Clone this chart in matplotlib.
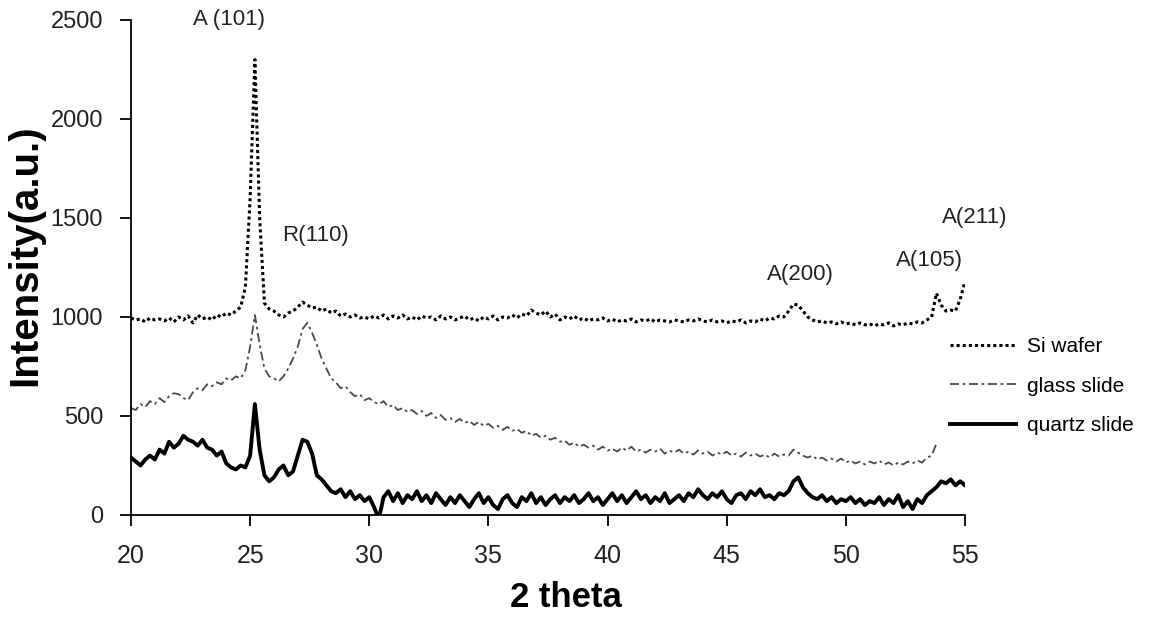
import matplotlib.pyplot as plt
import numpy as np

plt.rcParams['font.family'] = ['Liberation Sans', 'DejaVu Sans']

# 2 theta scan positions (0.2 degree step)
two_theta = np.round(np.arange(20.0, 55.01, 0.2), 1)

# Si wafer
si_wafer = [
    995, 985, 990, 975, 995, 985, 990, 980, 995, 975,
    1000, 985, 1005, 970, 1010, 990, 1000, 985, 1010, 1000,
    1020, 1010, 1030, 1050, 1150, 1600, 2300, 1500, 1070, 1040,
    1030, 1010, 1000, 1020, 1030, 1050, 1075, 1060, 1045, 1050,
    1030, 1040, 1020, 1030, 1005, 1015, 1000, 1010, 995, 1000,
    990, 1005, 995, 1010, 990, 1005, 995, 1010, 990, 1000,
    985, 1005, 995, 1000, 985, 1005, 990, 1000, 985, 995,
    1005, 985, 995, 980, 1000, 990, 1005, 985, 1000, 995,
    1010, 995, 1015, 1005, 1035, 1020, 1010, 1030, 1000, 1015,
    985, 1000, 990, 1005, 985, 995, 980, 990, 985, 995,
    980, 990, 975, 985, 980, 990, 975, 985, 980, 990,
    975, 985, 980, 975, 985, 980, 975, 985, 980, 990,
    980, 975, 985, 975, 980, 970, 980, 975, 985, 970,
    980, 975, 990, 980, 995, 990, 1005, 1000, 1030, 1065,
    1060, 1030, 1000, 985, 975, 980, 970, 975, 965, 975,
    965, 970, 960, 970, 960, 965, 955, 965, 960, 970,
    955, 965, 960, 970, 965, 975, 970, 985, 1000, 1120,
    1060, 1030, 1035, 1030, 1090, 1180,
]

# glass slide (scan stops at 53.8)
glass_slide = [
    540, 530, 560, 545, 575, 560, 590, 570, 600, 615,
    610, 590, 580, 620, 640, 630, 660, 650, 670, 660,
    690, 680, 700, 690, 730, 850, 1010, 860, 740, 700,
    690, 675, 700, 740, 790, 850, 940, 970, 920, 860,
    790, 740, 690, 670, 640, 650, 620, 600, 610, 580,
    590, 570, 560, 575, 545, 555, 530, 540, 520, 530,
    510, 525, 500, 515, 490, 505, 480, 490, 470, 485,
    465, 475, 455, 470, 450, 460, 440, 450, 430, 445,
    425, 435, 415, 425, 400, 410, 390, 400, 380, 390,
    370, 375, 355, 365, 345, 355, 340, 350, 330, 345,
    325, 335, 320, 340, 325, 345, 320, 330, 315, 330,
    320, 335, 310, 325, 315, 330, 310, 320, 305, 325,
    310, 320, 300, 315, 305, 320, 300, 310, 295, 315,
    300, 310, 295, 305, 290, 310, 295, 305, 300, 330,
    315, 300, 290, 300, 280, 290, 275, 285, 270, 285,
    265, 275, 260, 270, 255, 270, 260, 275, 255, 265,
    250, 265, 255, 270, 260, 275, 265, 290, 300, 360,
]

# quartz slide
quartz_slide = [
    290, 270, 250, 280, 300, 280, 330, 310, 370, 340,
    360, 400, 380, 370, 350, 380, 340, 330, 300, 320,
    260, 240, 230, 250, 240, 300, 560, 330, 200, 170,
    190, 230, 250, 200, 220, 300, 380, 370, 310, 200,
    180, 150, 120, 110, 130, 90, 120, 80, 100, 70,
    90, 40, -20, 90, 120, 70, 110, 60, 100, 80,
    120, 70, 100, 60, 110, 80, 50, 90, 60, 100,
    70, 40, 80, 110, 60, 90, 50, 30, 80, 100,
    60, 40, 90, 70, 110, 60, 90, 50, 80, 100,
    60, 90, 70, 100, 60, 80, 110, 70, 90, 50,
    80, 110, 70, 100, 60, 90, 120, 80, 100, 60,
    90, 70, 110, 60, 80, 100, 70, 110, 90, 130,
    100, 80, 110, 90, 120, 80, 60, 100, 110, 80,
    120, 100, 130, 90, 100, 80, 110, 100, 120, 170,
    190, 140, 110, 90, 80, 100, 70, 90, 60, 80,
    70, 90, 60, 80, 50, 70, 60, 90, 50, 80,
    60, 100, 40, 70, 30, 80, 60, 100, 120, 140,
    170, 160, 180, 150, 170, 150,
]

# peak labels: text, 2 theta, intensity
peak_names = ['A (101)', 'R(110)', 'A(200)', 'A(105)', 'A(211)']
peak_x = [24.1, 27.75, 48.1, 53.5, 55.4]
peak_y = [2500, 1410, 1215, 1285, 1500]

fig = plt.figure(figsize=(11.51, 6.18), dpi=100)
ax = fig.add_axes([0.1138, 0.1667, 0.7246, 0.801])

ax.plot(two_theta, si_wafer, color='black', lw=2.2, linestyle=(0, (1, 1)),
        label='Si wafer')
ax.plot(two_theta[:len(glass_slide)], glass_slide, color='#4a4a4a', lw=1.3,
        linestyle=(0, (5, 2, 1.5, 2)), label='glass slide')
ax.plot(two_theta, quartz_slide, color='black', lw=2.8, label='quartz slide')

for name, px, py in zip(peak_names, peak_x, peak_y):
    ax.text(px, py, name, fontsize=16, ha='center', va='center',
            color='#222222', clip_on=False)

ax.set_xlim(20, 55)
ax.set_ylim(0, 2500)
ax.set_xticks(np.arange(20, 56, 5))
ax.set_yticks(np.arange(0, 2501, 500))

for side in ['top', 'right']:
    ax.spines[side].set_visible(False)
for side in ['left', 'bottom']:
    ax.spines[side].set_linewidth(1.3)

ax.tick_params(axis='both', direction='out', length=8, width=1.3,
               color='black', labelcolor='#222222')
ax.tick_params(axis='y', labelsize=17, pad=12)
ax.tick_params(axis='x', labelsize=18, pad=13)

ax.set_xlabel('2 theta', fontsize=25, fontweight='bold')
ax.set_ylabel('Intensity(a.u.)', fontsize=29, fontweight='bold')
ax.xaxis.set_label_coords(0.522, -0.133)
ax.yaxis.set_label_coords(-0.104, 0.525)

fig.legend(loc='upper left', bbox_to_anchor=(0.825, 0.455), frameon=False,
           fontsize=15, handlelength=3.2, handletextpad=0.5,
           labelspacing=1.0, borderpad=0, borderaxespad=0)

fig.savefig('out.png', dpi=100)
